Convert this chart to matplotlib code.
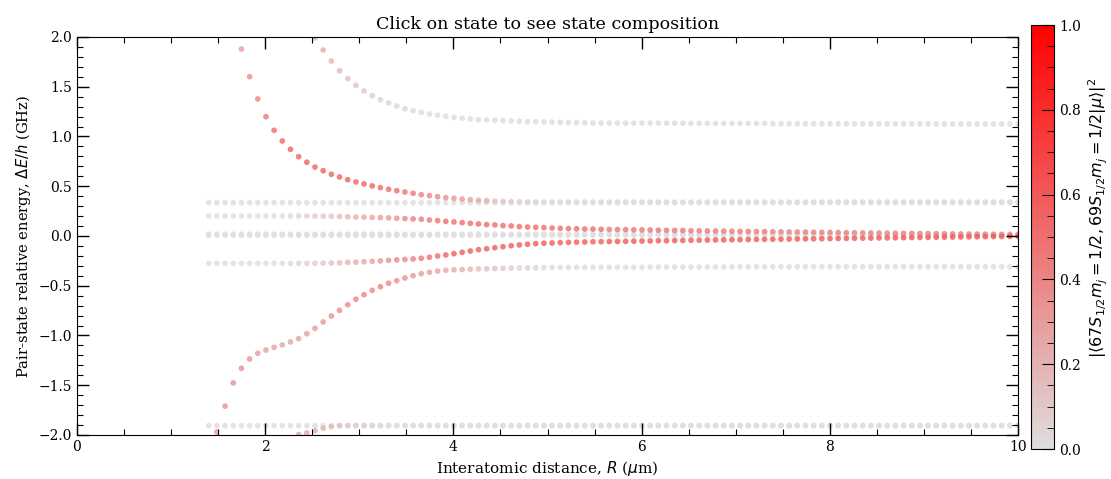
import numpy as np
import matplotlib
matplotlib.use("Agg")
import matplotlib.pyplot as plt
from matplotlib.colors import LinearSegmentedColormap
from matplotlib.ticker import MultipleLocator

plt.rcParams['font.family'] = 'serif'
plt.rcParams['mathtext.fontset'] = 'dejavusans'

# interatomic distance grid (um)
R = np.linspace(1.4, 10, 100)

# each branch: first index on the R grid, energies (GHz), overlap with the target pair state
up_gray_i0 = 13
up_gray_E = ([1.99, 1.869, 1.759, 1.661, 1.581, 1.514, 1.457, 1.410, 1.370, 1.337, 1.307, 1.279,
              1.259, 1.243, 1.226, 1.213, 1.203, 1.193, 1.183, 1.176, 1.169, 1.166, 1.163, 1.159,
              1.156, 1.153, 1.150, 1.148, 1.146, 1.144, 1.142, 1.140, 1.138, 1.137, 1.135, 1.134]
             + [1.133] * 10 + [1.131] * 10 + [1.129] * 10 + [1.128] * 10 + [1.126] * 11)
up_gray_c = ([0.2, 0.2, 0.18, 0.16, 0.14, 0.12, 0.1, 0.08, 0.06, 0.05, 0.04, 0.03, 0.02]
             + [0.01] * 74)

top_red_i0 = 4
top_red_E = ([1.879, 1.601, 1.377, 1.199, 1.062, 0.955, 0.871, 0.797, 0.741, 0.693, 0.656,
              0.620, 0.593, 0.566, 0.543, 0.523, 0.503, 0.486, 0.469, 0.455, 0.442, 0.429,
              0.415, 0.405, 0.395, 0.385, 0.379, 0.372, 0.365, 0.359, 0.355,
              0.351, 0.348, 0.346, 0.344, 0.342, 0.341] + [0.34] * 59)
top_red_c = ([0.3, 0.35, 0.4, 0.45, 0.5, 0.52, 0.55, 0.55, 0.55, 0.55, 0.55, 0.55, 0.55, 0.55,
              0.55, 0.55, 0.55, 0.52, 0.5, 0.5, 0.48, 0.45, 0.42, 0.4, 0.38, 0.35, 0.32, 0.3,
              0.27, 0.25, 0.22, 0.12, 0.1, 0.08, 0.06, 0.05, 0.04, 0.03, 0.02] + [0.01] * 57)

mid_up_i0 = 0
mid_up_E = ([0.201] * 13
            + [0.200, 0.199, 0.197, 0.195, 0.193, 0.191, 0.189, 0.187, 0.185, 0.182, 0.178, 0.175]
            + [0.171, 0.168, 0.161, 0.154, 0.147, 0.141, 0.134, 0.127, 0.121, 0.114, 0.111, 0.104,
               0.101, 0.094, 0.090, 0.087, 0.084, 0.080, 0.077, 0.074, 0.072, 0.070, 0.069, 0.067]
            + [0.066, 0.065, 0.064, 0.062, 0.061, 0.060, 0.058, 0.057, 0.056, 0.055,
               0.053, 0.052, 0.051, 0.050, 0.049, 0.048, 0.047, 0.046, 0.045, 0.044,
               0.043, 0.042, 0.041, 0.040, 0.039, 0.038, 0.037, 0.036, 0.035, 0.034,
               0.033, 0.032, 0.031, 0.030, 0.029, 0.028, 0.027, 0.026, 0.025, 0.024,
               0.023, 0.022, 0.021, 0.020, 0.019, 0.018, 0.017, 0.016, 0.015, 0.014, 0.013])
mid_up_c = ([0.0] * 10 + [0.02, 0.04, 0.06]
            + [0.08, 0.1, 0.12, 0.15, 0.18, 0.2, 0.23, 0.26, 0.29, 0.32, 0.35, 0.38]
            + [0.42, 0.44, 0.46, 0.48] + [0.5] * 20
            + [0.48] * 10 + [0.45] * 10 + [0.42] * 10 + [0.4] * 21)

mid_lo_i0 = 0
mid_lo_E = ([-0.275] * 13
            + [-0.274, -0.273, -0.271, -0.269, -0.266, -0.263, -0.259, -0.255, -0.250, -0.245,
               -0.240, -0.236]
            + [-0.231, -0.224, -0.214, -0.201, -0.191, -0.178, -0.164, -0.151, -0.138, -0.128,
               -0.118, -0.108, -0.098, -0.090, -0.083, -0.077, -0.073, -0.070, -0.067, -0.064,
               -0.062, -0.060, -0.058, -0.057]
            + [-0.056, -0.055, -0.054, -0.052, -0.051, -0.050, -0.048, -0.047, -0.046, -0.045,
               -0.043, -0.042, -0.041, -0.040, -0.039, -0.038, -0.037, -0.036, -0.035, -0.034,
               -0.033, -0.032, -0.031, -0.030, -0.029, -0.028, -0.027, -0.026, -0.025, -0.024,
               -0.023, -0.022, -0.021, -0.020, -0.019, -0.018, -0.017, -0.016, -0.015, -0.014,
               -0.013, -0.012, -0.011, -0.010, -0.009, -0.008, -0.007, -0.006, -0.005, -0.004,
               -0.003])
mid_lo_c = ([0.0] * 10 + [0.02, 0.04, 0.06]
            + [0.08, 0.1, 0.13, 0.16, 0.19, 0.22, 0.25, 0.28, 0.31, 0.34, 0.37, 0.4]
            + [0.43, 0.46, 0.49, 0.52, 0.55] + [0.58] * 19
            + [0.6] * 51)

low_red_i0 = 1
low_red_E = ([-1.97, -1.71, -1.477, -1.33, -1.236, -1.179, -1.146, -1.119, -1.095, -1.065,
              -1.032, -0.982, -0.928, -0.864, -0.804, -0.747, -0.691, -0.636, -0.590, -0.546,
              -0.510, -0.475, -0.449, -0.422, -0.399, -0.379, -0.365, -0.352,
              -0.345, -0.340, -0.337, -0.334, -0.331, -0.329, -0.327, -0.325, -0.323, -0.321,
              -0.320, -0.319, -0.318, -0.317, -0.316]
             + [-0.315] * 10 + [-0.312] * 10 + [-0.31] * 36)
low_red_c = ([0.3, 0.35, 0.35, 0.35, 0.33, 0.3, 0.28, 0.26, 0.25, 0.25, 0.26, 0.28, 0.3, 0.32,
              0.34, 0.36, 0.38, 0.4, 0.4, 0.4, 0.4, 0.38, 0.36, 0.34, 0.32, 0.3, 0.28, 0.26,
              0.24, 0.22, 0.2, 0.18, 0.16, 0.14, 0.12, 0.1, 0.08, 0.06, 0.05, 0.04, 0.03,
              0.02, 0.01] + [0.0] * 56)

bottom_i0 = 11
bottom_E = [-1.995, -1.98, -1.957, -1.933, -1.917, -1.907] + [-1.905] * 83
bottom_c = ([0.25, 0.25, 0.22, 0.2, 0.17, 0.14, 0.1, 0.08, 0.06, 0.04, 0.02]
            + [0.0] * 78)

# flat, uncoupled pair states across the whole grid
flat_levels = [0.335, 0.018, 0.008, -1.906]

branches = [
    (up_gray_i0, up_gray_E, up_gray_c),
    (top_red_i0, top_red_E, top_red_c),
    (mid_up_i0, mid_up_E, mid_up_c),
    (mid_lo_i0, mid_lo_E, mid_lo_c),
    (low_red_i0, low_red_E, low_red_c),
    (bottom_i0, bottom_E, bottom_c),
]

xs, ys, cs = [], [], []
for lev in flat_levels:
    xs.extend(R)
    ys.extend([lev] * len(R))
    cs.extend([0.0] * len(R))
for i0, E, c in branches:
    xs.extend(R[i0:i0 + len(E)])
    ys.extend(E)
    cs.extend(c)
xs, ys, cs = np.array(xs), np.array(ys), np.array(cs)
order = np.argsort(cs, kind='stable')

cmap = LinearSegmentedColormap.from_list('gr', [(0.87, 0.87, 0.87), (1.0, 0.0, 0.0)])

fig = plt.figure(figsize=(11.11, 4.79), dpi=100)
ax = fig.add_axes([0.0693, 0.0919, 0.847, 0.8309])
sc = ax.scatter(xs[order], ys[order], c=cs[order], cmap=cmap, vmin=0, vmax=1,
                s=17, edgecolors='none', alpha=0.8)

ax.set_xlim(0, 10)
ax.set_ylim(-2, 2)
ax.xaxis.set_major_locator(MultipleLocator(2))
ax.xaxis.set_minor_locator(MultipleLocator(0.5))
ax.yaxis.set_major_locator(MultipleLocator(0.5))
ax.yaxis.set_minor_locator(MultipleLocator(0.1))
ax.tick_params(which='both', direction='in', top=True, right=True, labelsize=10)
ax.tick_params(which='major', length=8.5, width=1)
ax.tick_params(which='minor', length=4.5, width=0.8)
ax.set_xlabel(r'Interatomic distance, $R$ ($\mu$m)', fontsize=11)
ax.set_ylabel(r'Pair-state relative energy, $\Delta E/h$ (GHz)', fontsize=10.6)
ax.set_title('Click on state to see state composition', fontsize=12.6)

cax = fig.add_axes([0.928, 0.0626, 0.0207, 0.885])
cb = fig.colorbar(plt.cm.ScalarMappable(norm=sc.norm, cmap=cmap), cax=cax)
cb.set_ticks([0.0, 0.2, 0.4, 0.6, 0.8, 1.0])
cb.ax.yaxis.set_minor_locator(MultipleLocator(0.05))
cb.ax.tick_params(which='both', direction='in', labelsize=10)
cb.ax.tick_params(which='major', length=9)
cb.ax.tick_params(which='minor', length=5)
cb.set_label(r'$|\langle 67S_{1/2}m_j=1/2, 69S_{1/2}m_j=1/2|\mu\rangle|^2$', fontsize=11.5)
cb.ax.yaxis.label.set_y(0.545)

fig.savefig('out.png', dpi=100)
